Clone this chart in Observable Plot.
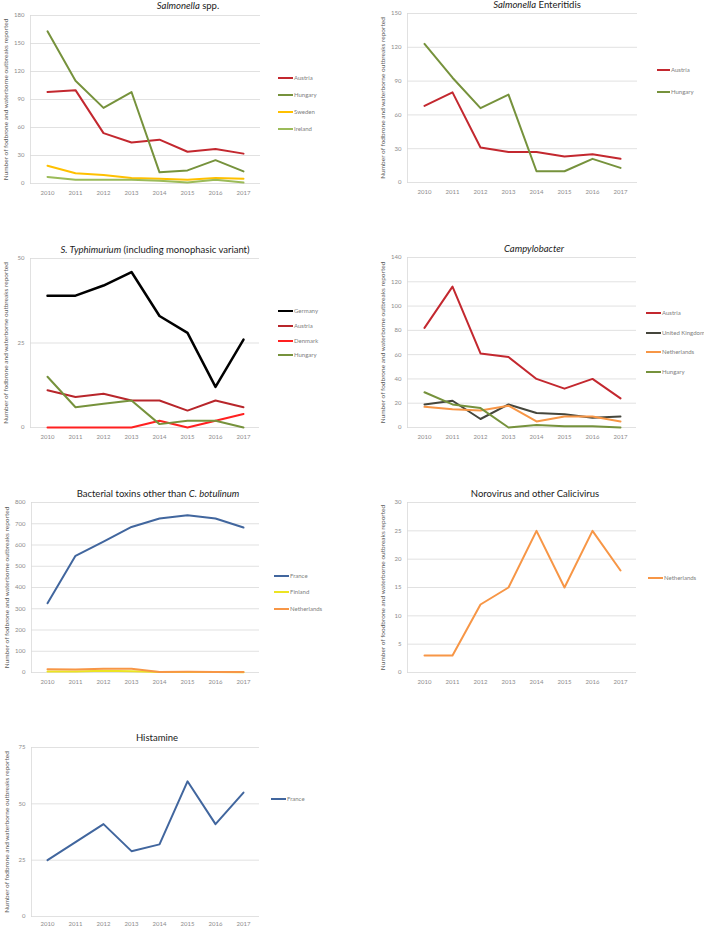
<!DOCTYPE html>
<html><head><meta charset="utf-8">
<script src="https://cdn.jsdelivr.net/npm/d3@7"></script>
<script src="https://cdn.jsdelivr.net/npm/@observablehq/plot@0.6"></script>
<style>
body{margin:0;background:#fff;font-family:Lato,"Open Sans",sans-serif;}
#root{position:relative;width:704px;height:927px;overflow:hidden;background:#fff;}
.title{position:absolute;transform:translate(-50%,-50%);font-size:9.5px;color:#1a1a1a;white-space:nowrap;line-height:1;}
.panel{position:absolute;}
.leg{position:absolute;font-size:6px;color:#808080;display:flex;align-items:center;transform:translateY(-50%);white-space:nowrap;line-height:1;}
.leg .sw{display:inline-block;height:2px;margin-right:1px;}
</style></head><body><div id="root"></div><script>
// ---- data ----
const years = ["2010","2011","2012","2013","2014","2015","2016","2017"];
// Salmonella spp.
const sppAustria = [98,100,54,44,47,34,37,32];
const sppHungary = [163,110,81,98,12,14,25,13];
const sppSweden = [19,11,9,6,5,4,6,5];
const sppIreland = [7,4,4,4,3,1,4,1];
const sppTicks = [0,30,60,90,120,150,180];
// Salmonella Enteritidis
const entAustria = [68,80,31,27,27,23,25,21];
const entHungary = [123,93,66,78,10,10,21,13];
const entTicks = [0,30,60,90,120,150];
// S. Typhimurium
const typGermany = [39,39,42,46,33,28,12,26];
const typAustria = [11,9,10,8,8,5,8,6];
const typDenmark = [0,0,0,0,2,0,2,4];
const typHungary = [15,6,7,8,1,2,2,0];
const typTicks = [0,25,50];
// Campylobacter
const camAustria = [82,116,61,58,40,32,40,24];
const camUK = [19,22,7,19,12,11,8,9];
const camNetherlands = [17,15,14,18,5,9,9,5];
const camHungary = [29,19,16,0,2,1,1,0];
const camTicks = [0,20,40,60,80,100,120,140];
// Bacterial toxins
const toxFrance = [326,549,616,685,725,740,725,682];
const toxFinland = [5,5,8,6,2,2,2,1];
const toxNetherlands = [15,14,18,18,2,3,2,2];
const toxTicks = [0,100,200,300,400,500,600,700,800];
// Norovirus
const noroNetherlands = [3,3,12,15,25,15,25,18];
const noroTicks = [0,5,10,15,20,25,30];
// Histamine
const histFrance = [25,33,41,29,32,60,41,55];
const histTicks = [0,25,50,75];

const yTitle = "Number of fodbrone and waterborne outbreaks reported";

const panels = [
  {title:"<i>Salmonella</i> spp.", tx:188, ty:6, pl:30, pr:260, pt:15, pb:183, ticks:sppTicks,
   series:[["Austria",sppAustria,"#c3282f",2],["Hungary",sppHungary,"#76923c",2],["Sweden",sppSweden,"#ffc000",2],["Ireland",sppIreland,"#9bbb59",2]],
   lx:278, lw:15, ly:[78,95,112,129]},
  {title:"<i>Salmonella</i> Enteritidis", tx:537, ty:5, pl:407, pr:637, pt:13, pb:182, ticks:entTicks,
   series:[["Austria",entAustria,"#c3282f",2],["Hungary",entHungary,"#76923c",2]],
   lx:657, lw:13, ly:[70,92]},
  {title:"<i>S. Typhimurium</i> (including monophasic variant)", tx:155, ty:250, pl:30, pr:259, pt:258, pb:427, ticks:typTicks,
   series:[["Germany",typGermany,"#000000",2.5],["Austria",typAustria,"#b8262b",2],["Denmark",typDenmark,"#ff2020",2],["Hungary",typHungary,"#76923c",2]],
   lx:278, lw:15, ly:[311,326,341,355]},
  {title:"<i>Campylobacter</i>", tx:534, ty:249, pl:407, pr:636, pt:257, pb:427, ticks:camTicks,
   series:[["Austria",camAustria,"#c3282f",2],["United Kingdom",camUK,"#45463c",2],["Netherlands",camNetherlands,"#f79646",2],["Hungary",camHungary,"#76923c",2]],
   lx:646, lw:15, ly:[313,333,352,372]},
  {title:"Bacterial toxins other than <i>C. botulinum</i>", tx:158, ty:494, pl:31, pr:259, pt:502, pb:672, ticks:toxTicks,
   series:[["France",toxFrance,"#41669e",2],["Finland",toxFinland,"#ece423",2],["Netherlands",toxNetherlands,"#f79646",2]],
   lx:274, lw:15, ly:[576,592,609]},
  {title:"Norovirus and other Calicivirus", tx:535, ty:494, pl:407, pr:636, pt:502, pb:672, ticks:noroTicks, ylab:"Number of foodbrone and waterborne outbreaks reported",
   series:[["Netherlands",noroNetherlands,"#f79646",2]],
   lx:648, lw:15, ly:[578]},
  {title:"Histamine", tx:157, ty:738, pl:31, pr:259, pt:747, pb:916, ticks:histTicks, xpad:5,
   series:[["France",histFrance,"#41669e",2]],
   lx:271, lw:15, ly:[799]}
];

const root = document.getElementById("root");
const ML = 30, MR = 2, MT = 10, MB = 20;

for (const p of panels) {
  const rows = p.series.flatMap(([name, vals]) => years.map((yr, i) => ({year: yr, value: vals[i], name})));
  const yMax = p.ticks[p.ticks.length - 1];
  const chart = Plot.plot({
    width: (p.pr - p.pl) + ML + MR,
    height: (p.pb - p.pt) + MT + MB,
    marginLeft: ML, marginRight: MR, marginTop: MT, marginBottom: MB,
    style: {fontFamily: "Lato, 'Open Sans', sans-serif", fontSize: "6px", background: "transparent", overflow: "visible"},
    x: {type: "point", domain: years, padding: 0.5},
    y: {domain: [0, yMax]},
    marks: [
      Plot.ruleY(p.ticks, {stroke: "#d9d9d9", strokeWidth: 0.8}),
      Plot.frame({anchor: "left", stroke: "#d9d9d9", strokeWidth: 0.8}),
      Plot.axisY(p.ticks, {tickSize: 0, tickPadding: 6, fill: "#8c8c8c", fontSize: 6, label: null}),
      Plot.axisX({tickSize: 0, tickPadding: p.xpad ?? 7, fill: "#8c8c8c", fontSize: 6, label: null}),
      Plot.text([p.ylab || yTitle], {frameAnchor: "left", textAnchor: "middle", rotate: -90, dx: -25, fontSize: 6.5, fill: "#595959"}),
      ...p.series.map(([name, vals, color, sw]) =>
        Plot.line(rows.filter(d => d.name === name), {x: "year", y: "value", stroke: color, strokeWidth: sw, strokeLinejoin: "round"}))
    ]
  });
  chart.classList.add("panel");
  chart.style.left = (p.pl - ML) + "px";
  chart.style.top = (p.pt - MT) + "px";
  root.appendChild(chart);

  const t = document.createElement("div");
  t.className = "title";
  t.innerHTML = p.title;
  t.style.left = p.tx + "px";
  t.style.top = p.ty + "px";
  root.appendChild(t);

  p.series.forEach(([name, vals, color], i) => {
    const l = document.createElement("div");
    l.className = "leg";
    l.style.left = p.lx + "px";
    l.style.top = p.ly[i] + "px";
    const sw = document.createElement("span");
    sw.className = "sw";
    sw.style.width = p.lw + "px";
    sw.style.background = color;
    l.appendChild(sw);
    l.appendChild(document.createTextNode(name));
    root.appendChild(l);
  });
}
</script></body></html>
